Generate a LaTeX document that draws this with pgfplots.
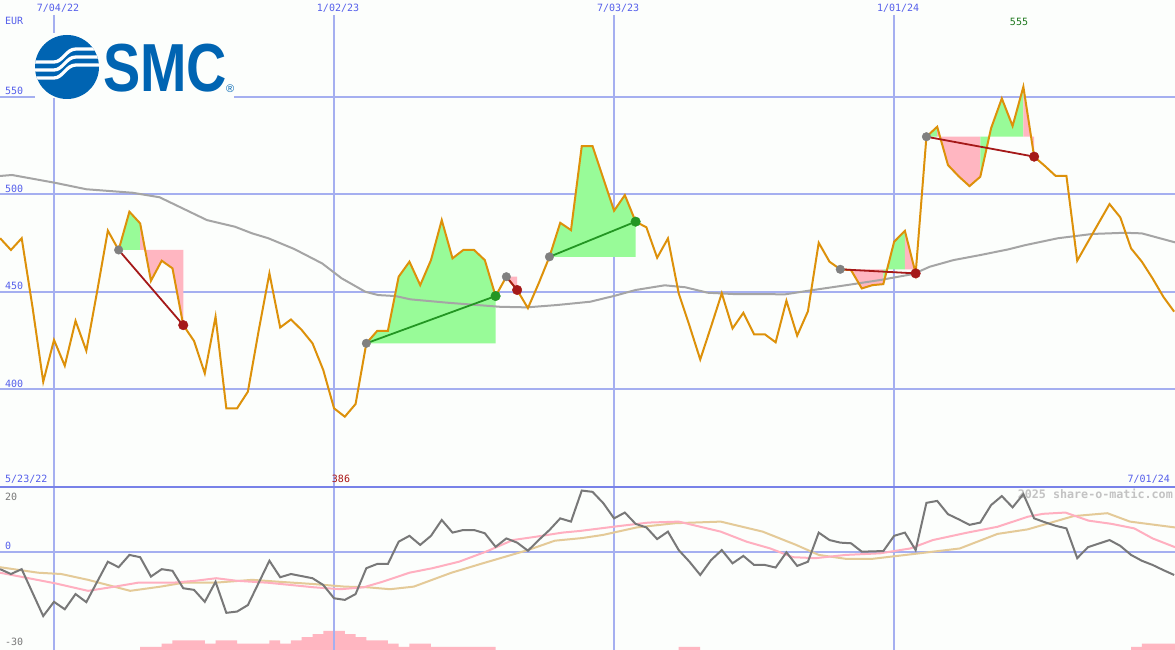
\documentclass[border=0pt]{standalone}
\usepackage{fontspec}
\setmainfont{DejaVu Sans}
\setmonofont{DejaVu Sans Mono}
\newfontfamily\logofont{Liberation Sans}
\usepackage{pgfplots}
\pgfplotsset{compat=1.18}
\usepackage{pgfplotstable}
\usepgfplotslibrary{fillbetween}

\definecolor{bg}{RGB}{252,254,252}
\definecolor{gridc}{RGB}{165,175,240}
\definecolor{sepc}{RGB}{120,130,232}
\definecolor{lbl}{RGB}{85,95,235}
\definecolor{pricec}{RGB}{221,145,10}
\definecolor{mac}{RGB}{165,165,165}
\definecolor{pgreen}{RGB}{152,251,152}
\definecolor{ppink}{RGB}{255,182,193}
\definecolor{lossc}{RGB}{165,25,25}
\definecolor{winc}{RGB}{35,150,35}
\definecolor{dotgray}{RGB}{128,128,128}
\definecolor{momc}{RGB}{120,120,120}
\definecolor{sigpink}{RGB}{255,175,192}
\definecolor{sigtan}{RGB}{228,202,152}
\definecolor{smcblue}{RGB}{0,100,178}
\definecolor{wm}{RGB}{195,195,195}
\definecolor{minc}{RGB}{170,20,20}
\definecolor{maxc}{RGB}{30,120,30}

\pgfplotstableread{
w p
1 477.4
2 471.4
3 477.4
4 442.3
5 403.9
6 425.3
7 412.1
8 435.1
9 419.8
10 450.0
11 481.3
12 471.4
13 491.0
14 485.0
15 455.6
16 465.9
17 462.0
18 432.9
19 424.8
20 408.2
21 437.2
22 390.3
23 390.3
24 398.8
25 430.0
26 459.4
27 431.7
28 435.8
29 430.4
30 423.6
31 409.9
32 390.3
33 386.0
34 392.5
35 423.6
36 429.9
37 430.0
38 457.7
39 465.4
40 453.4
41 466.2
42 486.7
43 467.1
44 471.4
45 471.4
46 466.2
47 447.8
48 457.7
49 450.9
50 441.6
51 454.3
52 467.9
53 485.3
54 481.6
55 524.6
56 524.6
57 508.0
58 491.5
59 499.5
60 485.9
61 483.0
62 467.4
63 477.3
64 449.2
65 432.6
66 415.3
67 432.1
68 449.2
69 431.2
70 439.2
71 428.2
72 428.2
73 424.1
74 445.4
75 427.5
76 440.0
77 475.1
78 465.4
79 461.5
80 461.1
81 451.7
82 453.4
83 453.9
84 475.6
85 481.2
86 459.4
87 529.4
88 534.5
89 514.9
90 509.1
91 504.1
92 508.9
93 533.7
94 549.0
95 534.9
96 555.0
97 519.2
98 514.4
99 509.3
100 509.3
101 465.9
102 475.6
103 485.3
104 494.9
105 488.1
106 472.2
107 465.4
108 456.8
109 447.4
110 439.8
}\price

\pgfplotstableread{
w m
1 -5.4
2 -6.9
3 -5.4
5 -19.9
6 -15.5
7 -17.8
8 -13.1
9 -15.6
11 -3.1
12 -4.8
13 -1.0
14 -1.7
15 -7.7
16 -5.4
17 -5.9
18 -11.3
19 -11.8
20 -15.5
21 -9.3
22 -18.9
23 -18.5
24 -16.5
26 -2.8
27 -7.9
28 -6.9
30 -8.2
31 -10.3
32 -14.4
33 -14.9
34 -13.1
35 -5.1
36 -3.8
37 -3.8
38 3.1
39 4.9
40 2.1
41 4.9
42 9.8
43 5.9
44 6.7
45 6.7
46 5.7
47 1.5
48 4.1
49 2.8
50 0.3
51 3.6
52 6.7
53 10.3
54 9.3
55 18.9
56 18.5
57 15.0
58 10.3
59 12.1
60 8.6
61 7.5
62 3.9
63 6.2
64 0.5
65 -3.1
66 -7.2
67 -2.6
68 0.5
69 -3.6
70 -1.3
71 -4.1
72 -4.1
73 -4.9
74 -0.2
75 -4.4
76 -3.1
77 5.9
78 3.6
79 2.8
80 2.6
81 0.0
83 0.2
84 4.9
85 5.9
86 0.5
87 15.1
88 15.7
89 11.6
90 10.0
91 8.3
92 9.0
93 14.4
94 17.2
95 13.7
96 17.8
97 10.3
98 9.1
99 8.0
100 7.2
101 -2.0
102 1.4
104 3.6
105 1.8
106 -1.0
107 -2.8
108 -4.1
109 -5.7
110 -7.2
}\mom

\pgfplotsset{
  panel/.style={scale only axis, width=1175pt, anchor=south west,
    xmin=0.986, xmax=110.08, axis line style={draw=none},
    major tick length=0pt, tick style={draw=none},
    xtick={6,32,58,84}, xmajorgrids,
    grid style={gridc, line width=2pt},
    /pgf/number format/assume math mode=true,
    yticklabel style={anchor=base west, inner sep=0pt, xshift=5pt, yshift=2pt,
      font=\ttfamily\fontsize{10}{12}\selectfont, text=lbl},
    xticklabel style={font=\ttfamily\fontsize{10}{12}\selectfont, text=lbl}}
}

\pagecolor{bg}
\begin{document}
\begin{tikzpicture}
\node[anchor=base east, inner sep=0pt, text=wm, font=\ttfamily\bfseries\fontsize{11.7}{13}\selectfont] at (1173pt,151pt) {2025 share-o-matic.com};

% volume-like bars
\begin{axis}[scale only axis, width=1175pt, height=163pt, at={(0pt,0pt)}, anchor=south west,
  xmin=0.986, xmax=110.08, ymin=0, ymax=51, hide axis]
\addplot[draw=none, fill=ppink, const plot] coordinates {(14,1)(16,2)(17,3)(20,2)(21,3)(23,2)(26,3)(27,2)(28,3)(29,4)(30,5)(31,6)(33,5)(34,4)(35,3)(37,2)(38,1)(39,2)(41,1)(47,1)} \closedcycle;
\addplot[draw=none, fill=ppink, const plot] coordinates {(64,1)(66,1)} \closedcycle;
\addplot[draw=none, fill=ppink, const plot] coordinates {(106,1)(107,2)(110.08,2)} \closedcycle;
\end{axis}

% bottom panel
\begin{axis}[panel, at={(0pt,0pt)}, height=163pt, ymin=-30.39, ymax=20,
  ytick={0}, ymajorgrids, xticklabels={}]
\addplot[sigtan, line width=2pt] coordinates {(0.99,-4.8)(4.54,-6.5)(6.67,-6.9)(9.16,-8.7)(13.07,-12.1)(15.9,-10.8)(18.0,-9.6)(20.9,-9.6)(24.4,-8.7)(26.9,-9.3)(30.1,-10.0)(33.0,-10.8)(35.1,-11.0)(37.2,-11.6)(39.4,-10.8)(42.9,-6.5)(45.8,-3.6)(50.0,0.5)(52.5,3.4)(55.0,4.2)(57.0,5.2)(60.1,7.5)(63.65,8.8)(67.9,9.3)(71.8,6.2)(74.9,2.1)(77.0,-1.0)(79.5,-2.2)(82.0,-2.2)(85.85,-0.7)(90.1,1.0)(93.6,5.5)(96.4,6.9)(100.65,11.0)(103.8,11.9)(105.9,9.3)(110.08,7.5)};
\addplot[sigpink, line width=2pt] coordinates {(0.99,-6.5)(6.14,-9.8)(9.16,-12.1)(11.65,-10.8)(13.78,-9.6)(16.97,-9.6)(19.1,-9.0)(21.06,-8.2)(23.0,-9.0)(25.86,-9.6)(28.0,-10.3)(30.12,-11.0)(32.6,-11.6)(34.75,-11.0)(36.5,-9.3)(39.0,-6.5)(41.14,-5.1)(43.6,-3.1)(46.1,0)(48.6,3.6)(50.7,4.6)(53.2,5.9)(54.8,6.4)(58.4,7.9)(61.2,9.0)(64.0,9.3)(67.9,6.2)(70.3,3.1)(72.5,1.0)(74.6,-1.7)(76.7,-2.0)(79.5,-1.0)(82.7,-0.5)(85.5,1.0)(87.6,3.6)(90.8,5.9)(93.6,7.7)(96.4,10.8)(97.8,11.7)(99.9,12.1)(102.05,9.6)(104.2,8.6)(106.3,7.2)(108.0,4.1)(110.08,1.4)};
\addplot[momc, line width=2pt] table[x=w, y=m] {\mom};
\draw[sepc, line width=2.5pt] (rel axis cs:0,1) -- (rel axis cs:1,1);
\end{axis}

% top panel
\begin{axis}[panel, at={(0pt,163pt)}, height=472pt, ymin=350, ymax=591.75,
  ytick={400,450,500,550}, ymajorgrids,
  xticklabels={7/04/22,1/02/23,7/03/23,1/01/24}, xticklabel pos=upper,
  xticklabel style={anchor=base, inner sep=0pt, yshift=3pt, xshift=4pt}]
\addplot[draw=none, name path=price] table[x=w, y=p] {\price};
\addplot[draw=none, name path=r1] coordinates {(12,471.4)(18,471.4)};
\addplot[draw=none, name path=r2] coordinates {(35,423.6)(47,423.6)};
\addplot[draw=none, name path=r3] coordinates {(48,457.7)(49,457.7)};
\addplot[draw=none, name path=r4] coordinates {(52,467.9)(60,467.9)};
\addplot[draw=none, name path=r5] coordinates {(79,461.5)(86,461.5)};
\addplot[draw=none, name path=r6] coordinates {(87,529.4)(97,529.4)};
\addplot[fill=pgreen, draw=none] fill between[of=price and r1, soft clip={domain=12:14}];
\addplot[fill=ppink, draw=none] fill between[of=price and r1, soft clip={domain=14:18}];
\addplot[fill=pgreen, draw=none] fill between[of=price and r2, soft clip={domain=35:47}];
\addplot[fill=ppink, draw=none] fill between[of=price and r3, soft clip={domain=48:49}];
\addplot[fill=pgreen, draw=none] fill between[of=price and r4, soft clip={domain=52:60}];
\addplot[fill=ppink, draw=none] fill between[of=price and r5, soft clip={domain=79:83}];
\addplot[fill=pgreen, draw=none] fill between[of=price and r5, soft clip={domain=83:85}];
\addplot[fill=ppink, draw=none] fill between[of=price and r5, soft clip={domain=85:86}];
\addplot[fill=pgreen, draw=none] fill between[of=price and r6, soft clip={domain=87:88}];
\addplot[fill=ppink, draw=none] fill between[of=price and r6, soft clip={domain=88:92}];
\addplot[fill=pgreen, draw=none] fill between[of=price and r6, soft clip={domain=92:96}];
\addplot[fill=ppink, draw=none] fill between[of=price and r6, soft clip={domain=96:97}];
% moving average
\addplot[mac, line width=2pt] coordinates {(0.99,509.3)(2.1,509.8)(6.1,505.8)(9,502.5)(13.3,500.7)(15.8,498.4)(20.2,486.7)(22.8,483.3)(24.4,479.9)(25.9,477.4)(28.3,471.9)(30.9,464.5)(32.7,456.9)(34.9,450)(36.1,448.3)(37.7,447.8)(39.1,446.1)(42.5,444.4)(47.4,442.3)(49.9,442)(52.7,443.2)(55.8,444.9)(58.1,448)(60,450.9)(62.7,453.3)(64.6,452.3)(66.7,449.5)(69.2,448.8)(73.9,448.7)(76.5,450.9)(79.6,453.4)(82.7,456)(85.8,459.1)(87.3,462.8)(89.5,466.2)(92,468.8)(94.6,471.7)(96.2,473.9)(99.2,477.4)(102.4,479.6)(105.4,480.2)(107,479.9)(110.08,475.3)};
% price
\addplot[pricec, line width=2pt] table[x=w, y=p] {\price};
% trades
\addplot[lossc, line width=1.8pt] coordinates {(12,471.4)(18,432.9)};
\addplot[winc, line width=1.8pt] coordinates {(35,423.6)(47,447.8)};
\addplot[lossc, line width=1.8pt] coordinates {(48,457.7)(49,450.9)};
\addplot[winc, line width=1.8pt] coordinates {(52,467.9)(60,485.9)};
\addplot[lossc, line width=1.8pt] coordinates {(79,461.5)(86,459.4)};
\addplot[lossc, line width=1.8pt] coordinates {(87,529.4)(97,519.2)};
\addplot[only marks, mark=*, mark size=4.3pt, mark options={draw=dotgray, fill=dotgray}] coordinates {(12,471.4)(35,423.6)(48,457.7)(52,467.9)(79,461.5)(87,529.4)};
\addplot[only marks, mark=*, mark size=4.8pt, mark options={draw=lossc, fill=lossc}] coordinates {(18,432.9)(49,450.9)(86,459.4)(97,519.2)};
\addplot[only marks, mark=*, mark size=4.8pt, mark options={draw=winc, fill=winc}] coordinates {(47,447.8)(60,485.9)};
\end{axis}

% labels
\begin{scope}[every node/.style={inner sep=0pt, font=\ttfamily\fontsize{10}{12}\selectfont}]
\node[anchor=base west, text=lbl] at (5pt,625pt) {EUR};
\node[anchor=base, text=maxc] at (1019pt,624pt) {555};
\node[anchor=base west, text=lbl] at (5pt,167pt) {5/23/22};
\node[anchor=base, text=minc] at (341pt,167pt) {386};
\node[anchor=base east, text=lbl] at (1170pt,167pt) {7/01/24};
\node[anchor=base west, text=momc] at (5pt,149pt) {20};
\node[anchor=base west, text=momc] at (5pt,4pt) {-30};
\end{scope}

% logo
\fill[bg] (35pt,552pt) rectangle (234pt,617pt);
\fill[smcblue] (67pt,583pt) circle (32pt);
\begin{scope}
\clip (67pt,583pt) circle (32pt);
\foreach \d in {0,8,16} {
  \draw[white, line width=3.3pt] (30pt,{588pt-\d pt}) -- (54pt,{588pt-\d pt})
     .. controls (63pt,{588pt-\d pt}) and (66pt,{601pt-\d pt}) .. (76pt,{601pt-\d pt}) -- (105pt,{601pt-\d pt});
}
\end{scope}
\node[anchor=base west, inner sep=0pt, text=smcblue] at (103pt,558pt) {\scalebox{0.82}[1]{\logofont\bfseries\fontsize{68}{70}\selectfont SMC}};
\node[anchor=base west, inner sep=0pt, text=smcblue] at (226pt,557pt) {\logofont\fontsize{11}{12}\selectfont ®};

\pgfresetboundingbox
\path[use as bounding box] (0pt,0pt) rectangle (1175pt,650pt);
\end{tikzpicture}
\end{document}
